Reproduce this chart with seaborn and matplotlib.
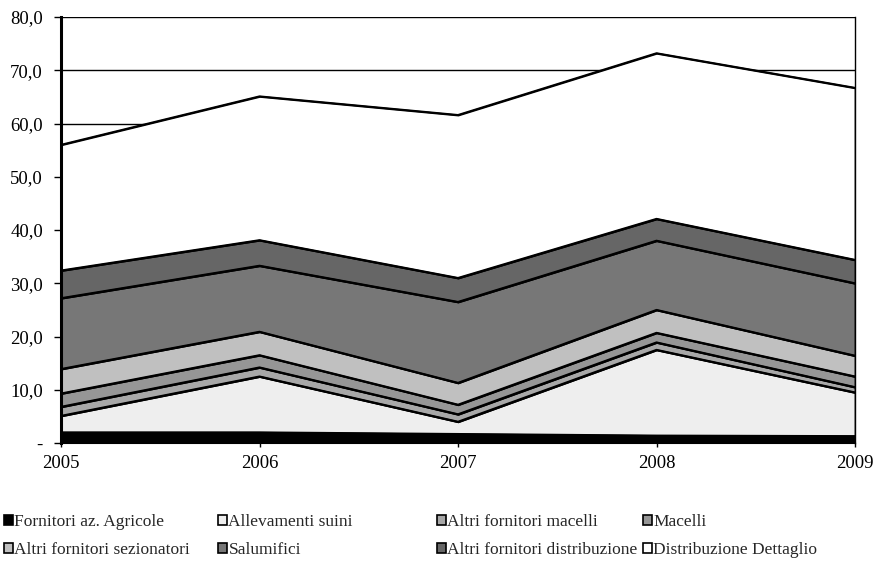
import matplotlib
matplotlib.use("Agg")
import matplotlib.pyplot as plt
import matplotlib.patches as mpatches
from matplotlib.ticker import FuncFormatter
import seaborn as sns
import pandas as pd
import numpy as np

years = [2005, 2006, 2007, 2008, 2009]

fornitori_agricole = [2.0, 2.0, 1.7, 1.4, 1.3]
allevamenti_suini = [3.1, 10.5, 2.3, 16.1, 8.2]
altri_fornitori_macelli = [1.7, 1.7, 1.4, 1.4, 1.0]
macelli = [2.5, 2.3, 1.8, 1.8, 2.0]
altri_fornitori_sezionatori = [4.6, 4.4, 4.1, 4.3, 3.9]
salumifici = [13.3, 12.4, 15.2, 13.0, 13.6]
altri_fornitori_distribuzione = [5.2, 4.8, 4.5, 4.1, 4.4]
distribuzione_dettaglio = [23.6, 27.0, 30.6, 31.1, 32.3]

labels = [
    "Fornitori az. Agricole",
    "Allevamenti suini",
    "Altri fornitori macelli",
    "Macelli",
    "Altri fornitori sezionatori",
    "Salumifici",
    "Altri fornitori distribuzione",
    "Distribuzione Dettaglio",
]
colors = ["#000000", "#eeeeee", "#a8a8a8", "#969696",
          "#c0c0c0", "#777777", "#666666", "#ffffff"]

series = [fornitori_agricole, allevamenti_suini, altri_fornitori_macelli, macelli,
          altri_fornitori_sezionatori, salumifici, altri_fornitori_distribuzione,
          distribuzione_dettaglio]

sns.set_theme(style="white")
plt.rcParams["font.family"] = ["Liberation Serif", "DejaVu Serif"]
plt.rcParams["font.size"] = 13.5

fig = plt.figure(figsize=(8.73, 5.69), dpi=100)
ax = fig.add_axes([61 / 873, 1 - 443 / 569, (855 - 61) / 873, (443 - 17) / 569])

ax.stackplot(years, *series, colors=colors, edgecolor="black", linewidth=1.4)

# outline of each cumulative boundary, long-form for seaborn
cum = np.cumsum(np.array(series), axis=0)
long = pd.DataFrame({
    "anno": np.tile(years, len(series)),
    "valore": cum.ravel(),
    "serie": np.repeat(labels, len(years)),
})
sns.lineplot(data=long, x="anno", y="valore", units="serie", estimator=None,
             color="black", linewidth=1.4, ax=ax, zorder=2)

ax.set_xlim(2005, 2009)
ax.set_ylim(0, 80)
ax.set_xticks(years)
ax.set_xticklabels([str(y) for y in years])
ax.set_yticks(np.arange(0, 81, 10))
ax.yaxis.set_major_formatter(FuncFormatter(
    lambda v, p: "-" if v == 0 else f"{v:.1f}".replace(".", ",")))
ax.set_xlabel("")
ax.set_ylabel("")

ax.yaxis.grid(True, color="black", linewidth=1)
ax.set_axisbelow(True)

ax.tick_params(axis="both", which="both", direction="out", width=1,
               color="black", labelcolor="black", labelsize=13.5)
ax.tick_params(axis="y", length=5, pad=8, left=True)
ax.tick_params(axis="x", length=3, pad=6, bottom=True)

ax.spines["top"].set_visible(False)
ax.spines["left"].set_color("black")
ax.spines["left"].set_linewidth(2.2)
ax.spines["left"].set_zorder(4)
ax.spines["bottom"].set_color("black")
ax.spines["bottom"].set_linewidth(1.5)
ax.spines["bottom"].set_zorder(4)
ax.spines["right"].set_color("black")
ax.spines["right"].set_linewidth(1)
ax.spines["right"].set_zorder(0.6)

handles = [mpatches.Patch(facecolor=c, edgecolor="black", linewidth=1.2) for c in colors]
col_x = [4, 218, 437, 643]
for i, x in enumerate(col_x):
    fig.legend(handles=[handles[i], handles[i + 4]],
               labels=[labels[i], labels[i + 4]],
               loc="upper left", bbox_to_anchor=(x / 873, 1 - 514 / 569),
               frameon=False, fontsize=12.5, borderpad=0, borderaxespad=0,
               handlelength=0.5, handleheight=0.5, handletextpad=0.1,
               labelspacing=0.68)

fig.savefig("out.png", dpi=100)
